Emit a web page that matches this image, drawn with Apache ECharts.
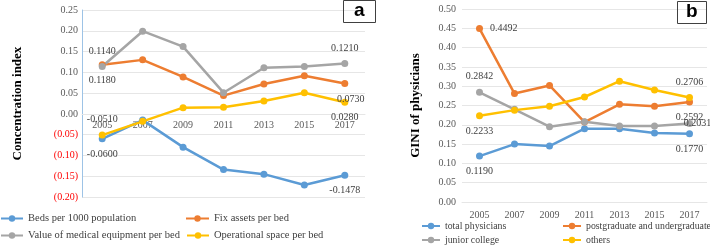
<!DOCTYPE html>
<html>
<head>
<meta charset="utf-8">
<script src="https://cdn.jsdelivr.net/npm/echarts@6/dist/echarts.min.js"></script>
<style>
  html, body { margin: 0; padding: 0; background: #fff; }
  #chart { width: 710px; height: 247px; }
</style>
</head>
<body>
<div id="chart"></div>
<script>
// panel a: concentration index
const years = ['2005', '2007', '2009', '2011', '2013', '2015', '2017'];
const bedsPer1000 = [-0.0600, -0.015, -0.080, -0.134, -0.145, -0.171, -0.1478];
const fixAssets = [0.1180, 0.130, 0.089, 0.044, 0.072, 0.092, 0.0730];
const medEquip = [0.1140, 0.199, 0.162, 0.051, 0.111, 0.114, 0.1210];
const opSpace = [-0.0510, -0.018, 0.015, 0.016, 0.031, 0.051, 0.0280];

// panel b: GINI of physicians
const totalPhys = [0.1190, 0.150, 0.145, 0.190, 0.190, 0.179, 0.1770];
const postgrad = [0.4492, 0.281, 0.302, 0.207, 0.253, 0.248, 0.2592];
const junior = [0.2842, 0.240, 0.195, 0.208, 0.197, 0.197, 0.2031];
const others = [0.2233, 0.238, 0.248, 0.272, 0.313, 0.290, 0.2706];

const FONT = 'Liberation Serif';
const BLUE = '#5B9BD5';
const ORANGE = '#ED7D31';
const GRAY = '#A5A5A5';
const YELLOW = '#FFC000';

// only first and last points get a value label
const withEndLabels = (values, firstLabel, lastLabel) =>
  values.map((v, i) => {
    if (i === 0) return { value: v, label: Object.assign({ show: true }, firstLabel) };
    if (i === values.length - 1) return { value: v, label: Object.assign({ show: true }, lastLabel) };
    return v;
  });

const lineSeries = (name, color, data, axis) => ({
  name: name,
  type: 'line',
  xAxisIndex: axis,
  yAxisIndex: axis,
  data: data,
  symbol: 'circle',
  symbolSize: 7,
  lineStyle: { color: color, width: 2.5 },
  itemStyle: { color: color },
  label: {
    formatter: (p) => p.value.toFixed(4),
    fontFamily: FONT,
    fontSize: 10,
    color: '#404040',
    distance: 7
  },
  z: 3
});

const legendItem = (name, left, top, w, size) => ({
  data: [name],
  left: left,
  top: top,
  itemWidth: w,
  itemHeight: 8,
  padding: 0,
  textStyle: { fontFamily: FONT, fontSize: size, color: '#404040' }
});

const chart = echarts.init(document.getElementById('chart'));

const option = {
  animation: false,
  backgroundColor: '#fff',
  title: [
    {
      text: 'a', left: 343, top: 0,
      borderWidth: 1, borderColor: '#404040', padding: [1, 11, 3, 11],
      textStyle: { fontFamily: 'Liberation Sans', fontWeight: 'bold', fontSize: 19, color: '#000' }
    },
    {
      text: 'b', left: 677, top: 1,
      borderWidth: 1, borderColor: '#404040', padding: [1, 9, 3, 9],
      textStyle: { fontFamily: 'Liberation Sans', fontWeight: 'bold', fontSize: 19, color: '#000' }
    }
  ],
  grid: [
    { left: 82, right: 345, top: 10, bottom: 50 },
    { left: 462, right: 3, top: 9, bottom: 45 }
  ],
  legend: [
    legendItem('Beds per 1000 population', 0, 213, 22, 10.5),
    legendItem('Fix assets per bed', 185, 213, 23, 10.5),
    legendItem('Value of medical equipment per bed', 0, 230, 22, 10.5),
    legendItem('Operational space per bed', 186, 230, 22, 10.5),
    legendItem('total physicians', 421, 221, 18, 9.8),
    legendItem('postgraduate and undergraduate', 562, 221, 18, 9.8),
    legendItem('junior college', 421, 235, 18, 9.8),
    legendItem('others', 562, 235, 18, 9.8)
  ],
  xAxis: [
    {
      type: 'category',
      gridIndex: 0,
      data: years,
      // category labels sit on the zero line (zero is 83px above the grid bottom)
      offset: -83,
      axisLine: { onZero: false, lineStyle: { color: '#E6E6E6' } },
      axisTick: { show: false },
      axisLabel: { fontFamily: FONT, fontSize: 10, color: '#595959', margin: 6 }
    },
    {
      type: 'category',
      gridIndex: 1,
      data: years,
      axisLine: { lineStyle: { color: '#E6E6E6' } },
      axisTick: { show: false },
      axisLabel: { fontFamily: FONT, fontSize: 10, color: '#595959', margin: 8 }
    }
  ],
  yAxis: [
    {
      type: 'value',
      gridIndex: 0,
      min: -0.2,
      max: 0.25,
      interval: 0.05,
      name: 'Concentration index',
      nameLocation: 'middle',
      nameGap: 58,
      nameTextStyle: { fontFamily: FONT, fontWeight: 'bold', fontSize: 13, color: '#000' },
      axisLine: { show: true, lineStyle: { color: '#9DC3E6' } },
      axisTick: { show: false },
      splitLine: { lineStyle: { color: '#E6E6E6' } },
      axisLabel: {
        margin: 4,
        formatter: (v) => {
          const r = Math.round(v * 100) / 100;
          if (r < 0) return '{neg|(' + Math.abs(r).toFixed(2) + ')}';
          return '{pos|' + r.toFixed(2) + '}';
        },
        rich: {
          pos: { fontFamily: FONT, fontSize: 10, color: '#595959' },
          neg: { fontFamily: FONT, fontSize: 10, color: '#FF0000' }
        }
      }
    },
    {
      type: 'value',
      gridIndex: 1,
      min: 0,
      max: 0.5,
      interval: 0.05,
      name: 'GINI of physicians',
      nameLocation: 'middle',
      nameGap: 40,
      nameTextStyle: { fontFamily: FONT, fontWeight: 'bold', fontSize: 13, color: '#000' },
      axisLine: { show: false },
      axisTick: { show: false },
      splitLine: { lineStyle: { color: '#E6E6E6' } },
      axisLabel: {
        margin: 6,
        fontFamily: FONT, fontSize: 10, color: '#595959',
        formatter: (v) => (Math.round(v * 100) / 100).toFixed(2)
      }
    }
  ],
  series: [
    lineSeries('Beds per 1000 population', BLUE,
      withEndLabels(bedsPer1000, { position: 'bottom' }, { position: 'bottom' }), 0),
    lineSeries('Fix assets per bed', ORANGE,
      withEndLabels(fixAssets, { position: 'bottom' }, { position: 'bottom', offset: [6, 0] }), 0),
    lineSeries('Value of medical equipment per bed', GRAY,
      withEndLabels(medEquip, { position: 'top' }, { position: 'top' }), 0),
    lineSeries('Operational space per bed', YELLOW,
      withEndLabels(opSpace, { position: 'top' }, { position: 'bottom' }), 0),

    lineSeries('total physicians', BLUE,
      withEndLabels(totalPhys, { position: 'bottom' }, { position: 'bottom' }), 1),
    lineSeries('postgraduate and undergraduate', ORANGE,
      withEndLabels(postgrad, { position: 'right' }, { position: 'bottom' }), 1),
    lineSeries('junior college', GRAY,
      withEndLabels(junior, { position: 'top' }, { position: 'inside', offset: [8, 0] }), 1),
    lineSeries('others', YELLOW,
      withEndLabels(others, { position: 'bottom' }, { position: 'top' }), 1)
  ]
};

chart.setOption(option);
</script>
</body>
</html>
